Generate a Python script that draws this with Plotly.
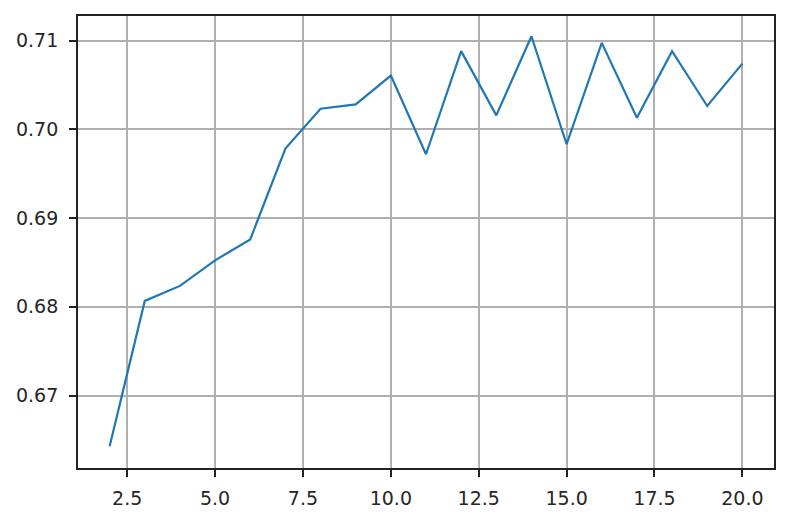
import plotly.graph_objects as go

x_vals = [2, 3, 4, 5, 6, 7, 8, 9, 10, 11, 12, 13, 14, 15, 16, 17, 18, 19, 20]
scores = [0.66428, 0.68067, 0.68236, 0.68524, 0.68760, 0.69783, 0.70232, 0.70281,
          0.70606, 0.69719, 0.70881, 0.70157, 0.71049, 0.69832, 0.70974, 0.70131,
          0.70881, 0.70263, 0.70740]
x_ticks = [2.5, 5.0, 7.5, 10.0, 12.5, 15.0, 17.5, 20.0]
x_ticklabels = ["2.5", "5.0", "7.5", "10.0", "12.5", "15.0", "17.5", "20.0"]
y_ticks = [0.67, 0.68, 0.69, 0.70, 0.71]
y_ticklabels = ["0.67", "0.68", "0.69", "0.70", "0.71"]

fig = go.Figure()
fig.add_trace(go.Scatter(x=x_vals, y=scores, mode="lines",
                         line=dict(color="#1f77b4", width=2.2)))

axis_common = dict(
    showline=True, linecolor="#222222", linewidth=1.8, mirror=True,
    showgrid=True, gridcolor="#b0b0b0", gridwidth=1.6,
    ticks="outside", ticklen=7, tickwidth=1.6, tickcolor="#222222",
    zeroline=False,
    tickfont=dict(family="DejaVu Sans", size=19, color="#262626"),
)

fig.update_xaxes(range=[1.1, 20.9], tickvals=x_ticks, ticktext=x_ticklabels,
                 ticklabelstandoff=5, **axis_common)
fig.update_yaxes(range=[0.66184, 0.71277], tickvals=y_ticks, ticktext=y_ticklabels,
                 ticklabelstandoff=7, **axis_common)

# the page body has an 8px default margin; compensate so the plot area sits as in the reference
fig.update_layout(
    width=788, height=517,
    margin=dict(l=70, r=22, t=6, b=57),
    plot_bgcolor="white", paper_bgcolor="white",
    showlegend=False,
)

fig.write_html("out.html")
